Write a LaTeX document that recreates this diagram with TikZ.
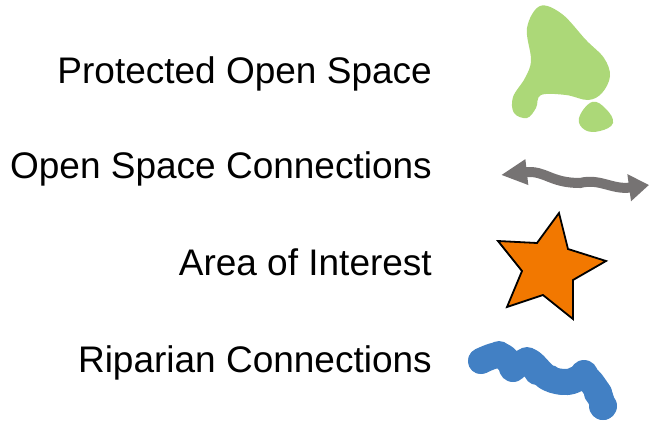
\documentclass[tikz,border=0pt]{standalone}
\usepackage{fontspec}
\setmainfont{Liberation Sans}
\usepackage{tikz}
\usetikzlibrary{arrows.meta}

\definecolor{openGreen}{RGB}{172,216,120}
\definecolor{linkGrey}{RGB}{118,115,115}
\definecolor{aoiOrange}{RGB}{242,120,0}
\definecolor{ripBlue}{RGB}{66,128,196}

\begin{document}
\begin{tikzpicture}[x=1bp, y=-1bp]
	\useasboundingbox (0,0) rectangle (650,423);
	% labels
	\node[anchor=base east, inner sep=0, font=\fontsize{37bp}{44bp}\selectfont](pos) at (432,83){Protected Open Space};
	\node[anchor=base east, inner sep=0, font=\fontsize{37bp}{44bp}\selectfont](osc) at (432,178){Open Space Connections};
	\node[anchor=base east, inner sep=0, font=\fontsize{37bp}{44bp}\selectfont](aoi) at (432,275){Area of Interest};
	\node[anchor=base east, inner sep=0, font=\fontsize{37bp}{44bp}\selectfont](rip) at (432,372){Riparian Connections};
	% protected open space
	\path[fill=openGreen] plot[smooth cycle, tension=0.6] coordinates {(540,6) (562,14) (586,40) (604,58) (610,76) (602,93) (588,100) (566,95) (541,95) (536,108) (527,118) (514,113) (513,97) (525,78) (531,60) (527,28)};
	\path[fill=openGreen] plot[smooth cycle, tension=0.7] coordinates {(592,102) (606,109) (613,123) (600,131) (585,130) (579,118)};
	% open space connections
	\path[draw, line width=10bp, linkGrey, {Triangle[length=26bp, width=24bp]}-{Triangle[length=20bp, width=26bp]}] (501,175) .. controls (545,170) and (550,183) .. (580,183) .. controls (600,178) and (612,190) .. (649,185);
	% area of interest
	\path[draw, line width=1.8bp, fill=aoiOrange, line join=miter] (559,213) -- (568,249) -- (606,261) -- (573,280) -- (573,319) -- (543,295) -- (507,307) -- (522,271) -- (498,241) -- (537,243) -- cycle;
	% riparian connections
	\path[draw, ripBlue, line width=26bp, line cap=round, line join=round] plot[smooth, tension=0.6] coordinates {(481,361) (500,355) (515,366) (529,361) (548,378) (568,382) (585,377) (598,392) (603,407)};
	\foreach \cx/\cy/\r in {481/361/13, 499/354/13, 513/368/14, 527/360/13, 537/372/13, 550/378/13, 562/382/13, 584/374/14, 598/393/14, 603/406/14}
		\path[fill=ripBlue] (\cx,\cy) circle (\r);
\end{tikzpicture}
\end{document}
